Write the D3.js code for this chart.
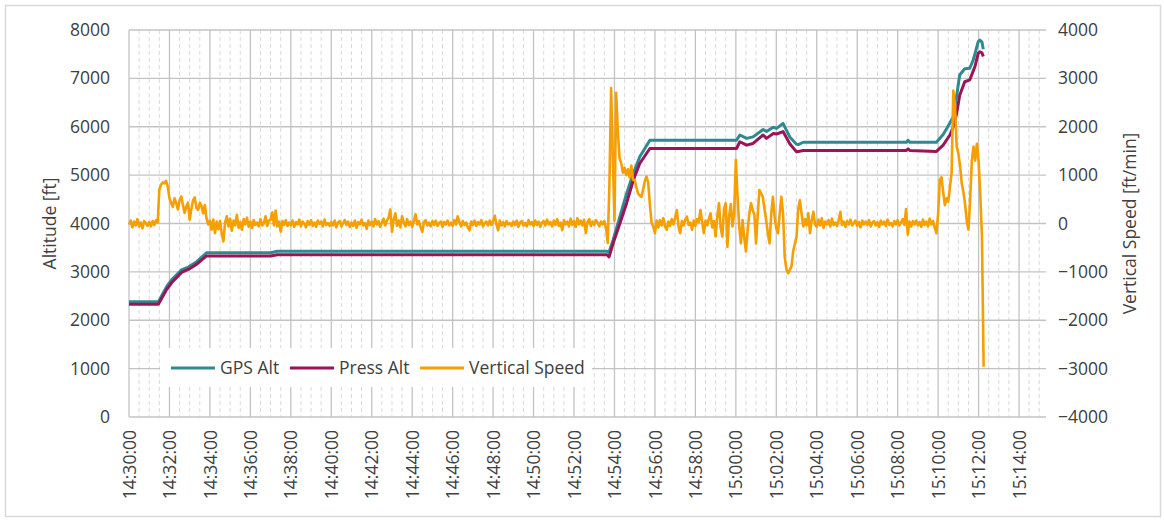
<!DOCTYPE html>
<html>
<head>
<meta charset="utf-8">
<script src="https://cdn.jsdelivr.net/npm/d3@7"></script>
<style>
  body { margin: 0; background: #ffffff; }
  text { font-family: "Open Sans", sans-serif; fill: #404040; }
</style>
</head>
<body>
<div id="vis"></div>
<script>
//###############################################################
// Flight log: GPS / pressure altitude (left) and vertical speed
// (right axis) against time of day
//###############################################################
const FRAME_WIDTH = 1164;
const FRAME_HEIGHT = 521;
const MARGINS = {left: 129, right: 118, top: 30, bottom: 104};
const VIS_WIDTH = FRAME_WIDTH - MARGINS.left - MARGINS.right;
const VIS_HEIGHT = FRAME_HEIGHT - MARGINS.top - MARGINS.bottom;

const FONT_SIZE = "17.5px";

// ---- data ----
const altTimes = ["14:30:00", "14:31:27", "14:31:52", "14:32:07", "14:32:36", "14:32:56",
  "14:33:21", "14:33:50", "14:37:00", "14:37:20", "14:53:38", "14:53:44", "14:53:56",
  "14:54:16", "14:54:36", "14:54:56", "14:55:15", "14:55:45", "15:00:02", "15:00:12",
  "15:00:32", "15:00:51", "15:01:21", "15:01:31", "15:01:51", "15:02:01", "15:02:20",
  "15:02:40", "15:03:00", "15:03:05", "15:03:20", "15:08:26", "15:08:31", "15:08:36",
  "15:09:55", "15:10:15", "15:10:35", "15:10:45", "15:10:55", "15:11:04", "15:11:19",
  "15:11:34", "15:11:44", "15:11:49", "15:11:59", "15:12:04", "15:12:10", "15:12:14"];

const gpsAlt = [2380, 2380, 2700, 2840, 3040, 3100,
  3210, 3395, 3395, 3425, 3425, 3410, 3660,
  4140, 4620, 5040, 5380, 5720, 5720, 5830,
  5760, 5790, 5945, 5900, 5990, 5965, 6070,
  5790, 5640, 5630, 5680, 5680, 5720, 5680,
  5680, 5840, 6080, 6210, 6640, 7070, 7200,
  7210, 7380, 7500, 7760, 7790, 7750, 7600];

const pressAlt = [2330, 2330, 2640, 2780, 2990, 3050,
  3160, 3330, 3330, 3355, 3355, 3310, 3590,
  4000, 4420, 4900, 5240, 5550, 5550, 5690,
  5620, 5655, 5830, 5760, 5860, 5850, 5900,
  5650, 5480, 5490, 5510, 5510, 5545, 5510,
  5490, 5620, 5830, 6000, 6280, 6650, 6930,
  6970, 7150, 7240, 7520, 7550, 7530, 7450];

// vertical speed [ft/min], one sample every 5 s from 14:30:00 (one row per minute)
const vsStart = "14:30:00";
const vsStepSec = 5;
const vertSpeed = [
  -20, 60, -80, 40, -40, 90, -60, 20, -100, 50, 10, -50,
  30, -60, 50, -30, 70, 20, 700, 800, 850, 830, 880, 760,
  520, 430, 340, 520, 420, 290, 480, 560, 380, 220, 350, 430,
  80, 300, 480, 540, 320, 280, 430, 360, 210, 380, 100, -20,
  60, -130, 80, -200, 40, -120, 50, -200, -370, 20, 150, -60,
  100, -150, 60, -40, 180, -90, 30, -130, 90, -20, 120, -70,
  40, -90, 70, -30, 20, -60, 90, -40, 10, 150, -50, 60,
  80, 230, -40, 270, -60, 40, -170, 50, -30, 70, -50, 20,
  -40, 60, -70, 30, -20, 80, -60, 40, 0, -80, 50, -30,
  70, -50, 20, -70, 60, -10, 40, -60, 80, -30, 10, -50,
  30, -40, 60, -80, 20, 50, -60, 10, 70, -30, 40, -70,
  20, -50, 60, -90, 30, -20, 80, -40, 10, -110, 60, -30,
  40, -60, 90, -20, 50, -70, 20, 100, -40, 60, 120, 290,
  -170, 80, 210, -50, 60, -80, 150, 20, -60, 90, -30, 40,
  -70, 60, 190, -20, 50, -80, -170, 30, 70, -40, 20, -60,
  50, -30, 60, -50, 10, 40, -70, 30, -20, 60, -40, 20,
  -50, 70, -20, 150, 30, -60, 50, -30, 20, -80, -140, 40,
  -30, 60, -50, 30, -20, 70, -60, 10, 40, -40, 60, -30,
  50, 160, -20, -140, 60, -40, 30, -60, 50, -20, 10, -50,
  40, -30, 60, -70, 20, 50, -40, 10, -60, 70, -20, 30,
  -50, 60, -30, 40, -70, 20, 50, -40, 80, -20, 30, -60,
  60, -30, 90, -50, 20, -140, 70, -20, 40, -60, 100, -30,
  50, -70, 110, -20, 60, -40, 80, -200, 30, 90, -50, 40,
  -30, 70, 20, -60, 40, -20, 50, -90, -400, 800, 2800, 1400,
  60, 2700, 1900, 1350, 1250, 1050, 1150, 1000, 1120, 950, 1200, 900,
  900, 750, 620, 580, 550, 700, 880, 970, 850, 400, 20, -60,
  -200, 60, -80, 70, -40, 110, -60, -130, 40, -50, 90, -20,
  120, 280, -60, -200, 50, -40, 80, 140, -30, 20, -130, 60,
  -50, 90, 30, 280, 40, -200, 60, -40, 100, 210, -80, 50,
  -270, 150, 420, -90, -270, 300, 420, -480, 150, 400, -60, 210,
  1310, 560, -60, -410, 70, -300, -580, -130, 200, 420, 280, 180,
  -410, 200, 690, 620, 550, 300, 70, -200, -410, 200, 550, 140,
  -100, -200, 200, 550, 210, -690, -950, -1030, -960, -890, -580, -420,
  -280, 300, 480, 200, -60, 90, -40, 210, -200, 60, 240, -20,
  -70, 80, -40, 110, -90, 40, -20, 70, -60, 100, -30, 20,
  -50, 60, 240, -30, 40, -70, 50, -20, 80, -40, 10, 60,
  -50, 30, -80, 60, -20, 40, -30, 70, -60, 20, 50, -40,
  30, -70, 60, -20, 40, -50, 80, -30, 10, -60, 50, -20,
  70, -40, 20, 90, -30, 300, -230, 40, -60, 50, -20, 60,
  -40, 30, -70, 80, -30, 40, -60, 100, -20, 50, -90, -200,
  200, 900, 960, 650, 380, 520, 450, 750, 1040, 2750, 2450, 1600,
  1450, 1200, 830, 650, 400, 50, -130, 500, 1300, 1590, 1300, 1650,
  1300, 600, -270, -2960
];

const altTicks = [0, 1000, 2000, 3000, 4000, 5000, 6000, 7000, 8000];
const vsTicks = [-4000, -3000, -2000, -1000, 0, 1000, 2000, 3000, 4000];
const timeStart = "14:30:00";
const timeEnd = "15:15:20";

const seriesNames = ["GPS Alt", "Press Alt", "Vertical Speed"];
const seriesColors = ["#2e8a90", "#9c1457", "#f59f00"];

// ---- frame ----
const parseTime = d3.timeParse("%H:%M:%S");
const fmtTime = d3.timeFormat("%H:%M:%S");
const fmtNum = d3.format("d");

const FRAME = d3.select("#vis")
  .append("svg")
    .attr("width", FRAME_WIDTH)
    .attr("height", FRAME_HEIGHT);

// outer chart border
FRAME.append("rect")
  .attr("x", 5.5).attr("y", 5.5)
  .attr("width", 1155).attr("height", 511)
  .attr("fill", "#ffffff")
  .attr("stroke", "#d9d9d9")
  .attr("stroke-width", 1.5);

const X_SCALE = d3.scaleTime()
  .domain([parseTime(timeStart), parseTime(timeEnd)])
  .range([MARGINS.left, MARGINS.left + VIS_WIDTH]);

const Y_ALT = d3.scaleLinear()
  .domain([0, 8000])
  .range([MARGINS.top + VIS_HEIGHT, MARGINS.top]);

const Y_VS = d3.scaleLinear()
  .domain([-4000, 4000])
  .range([MARGINS.top + VIS_HEIGHT, MARGINS.top]);

// ---- gridlines ----
const minorTicks = X_SCALE.ticks(d3.timeSecond.every(30))
  .filter(d => d.getSeconds() !== 0 || d.getMinutes() % 2 !== 0);
const majorTicks = X_SCALE.ticks(d3.timeMinute.every(2));

FRAME.append("g")
  .selectAll("line")
  .data(minorTicks)
  .enter()
  .append("line")
    .attr("x1", d => X_SCALE(d)).attr("x2", d => X_SCALE(d))
    .attr("y1", MARGINS.top).attr("y2", MARGINS.top + VIS_HEIGHT)
    .attr("stroke", "#d9d9d9")
    .attr("stroke-width", 1)
    .attr("stroke-dasharray", "4,3");

FRAME.append("g")
  .selectAll("line")
  .data(majorTicks)
  .enter()
  .append("line")
    .attr("x1", d => X_SCALE(d)).attr("x2", d => X_SCALE(d))
    .attr("y1", MARGINS.top).attr("y2", MARGINS.top + VIS_HEIGHT)
    .attr("stroke", "#c3c3c3")
    .attr("stroke-width", 1.3);

FRAME.append("g")
  .selectAll("line")
  .data(altTicks)
  .enter()
  .append("line")
    .attr("x1", MARGINS.left).attr("x2", MARGINS.left + VIS_WIDTH)
    .attr("y1", d => Y_ALT(d)).attr("y2", d => Y_ALT(d))
    .attr("stroke", "#c3c3c3")
    .attr("stroke-width", 1.3);

// ---- axes (labels only, Excel style) ----
const leftAxis = FRAME.append("g")
  .attr("transform", "translate(" + MARGINS.left + ",0)")
  .call(d3.axisLeft(Y_ALT).tickValues(altTicks).tickFormat(fmtNum).tickSize(0).tickPadding(19));

const rightAxis = FRAME.append("g")
  .attr("transform", "translate(" + (MARGINS.left + VIS_WIDTH) + ",0)")
  .call(d3.axisRight(Y_VS).tickValues(vsTicks).tickFormat(fmtNum).tickSize(0).tickPadding(12));

const bottomAxis = FRAME.append("g")
  .attr("transform", "translate(0," + (MARGINS.top + VIS_HEIGHT) + ")")
  .call(d3.axisBottom(X_SCALE).tickValues(majorTicks).tickFormat(fmtTime).tickSize(0));

bottomAxis.selectAll("text")
  .attr("transform", "rotate(-90)")
  .attr("x", -13)
  .attr("y", 0)
  .attr("dy", "0.35em")
  .style("text-anchor", "end");

[leftAxis, rightAxis, bottomAxis].forEach(ax => {
  ax.select(".domain").remove();
  ax.selectAll("text")
    .attr("font-family", "Open Sans")
    .attr("font-size", FONT_SIZE)
    .attr("fill", "#404040");
});

// axis titles
FRAME.append("text")
  .attr("transform", "translate(50," + (MARGINS.top + VIS_HEIGHT / 2) + ") rotate(-90)")
  .attr("text-anchor", "middle")
  .attr("dy", "0.35em")
  .attr("font-size", FONT_SIZE)
  .text("Altitude [ft]");

FRAME.append("text")
  .attr("transform", "translate(1130," + (MARGINS.top + VIS_HEIGHT / 2) + ") rotate(-90)")
  .attr("text-anchor", "middle")
  .attr("dy", "0.35em")
  .attr("font-size", FONT_SIZE)
  .text("Vertical Speed [ft/min]");

// ---- series ----
const altData = altTimes.map((t, i) => ({t: parseTime(t), gps: gpsAlt[i], press: pressAlt[i]}));
const t0 = parseTime(vsStart);
const vsData = vertSpeed.map((v, i) => ({t: new Date(t0.getTime() + i * vsStepSec * 1000), v: v}));

const gpsLine = d3.line().x(d => X_SCALE(d.t)).y(d => Y_ALT(d.gps));
const pressLine = d3.line().x(d => X_SCALE(d.t)).y(d => Y_ALT(d.press));
const vsLine = d3.line().x(d => X_SCALE(d.t)).y(d => Y_VS(d.v));

FRAME.append("path")
  .datum(altData)
  .attr("d", gpsLine)
  .attr("fill", "none")
  .attr("stroke", seriesColors[0])
  .attr("stroke-width", 3)
  .attr("stroke-linejoin", "round");

FRAME.append("path")
  .datum(altData)
  .attr("d", pressLine)
  .attr("fill", "none")
  .attr("stroke", seriesColors[1])
  .attr("stroke-width", 3)
  .attr("stroke-linejoin", "round");

FRAME.append("path")
  .datum(vsData)
  .attr("d", vsLine)
  .attr("fill", "none")
  .attr("stroke", seriesColors[2])
  .attr("stroke-width", 2.6)
  .attr("stroke-linejoin", "round");

// ---- legend ----
const legend = FRAME.append("g");
legend.append("rect")
  .attr("x", 160).attr("y", 348)
  .attr("width", 432).attr("height", 39)
  .attr("fill", "#ffffff");

const legendX = [171, 290, 420];
seriesNames.forEach((name, i) => {
  legend.append("line")
    .attr("x1", legendX[i]).attr("x2", legendX[i] + 44)
    .attr("y1", 368).attr("y2", 368)
    .attr("stroke", seriesColors[i])
    .attr("stroke-width", 3);
  legend.append("text")
    .attr("x", legendX[i] + 49)
    .attr("y", 368)
    .attr("dy", "0.35em")
    .attr("font-size", FONT_SIZE)
    .text(name);
});
</script>
</body>
</html>
